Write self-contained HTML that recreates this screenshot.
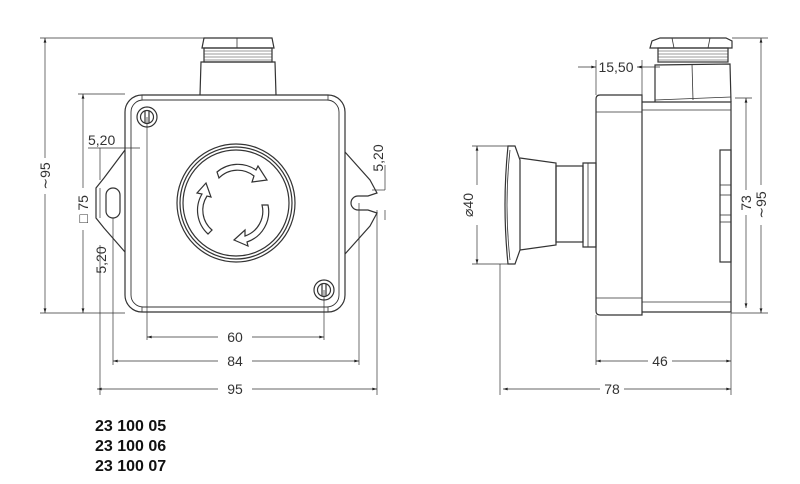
<!DOCTYPE html>
<html><head><meta charset="utf-8"><style>
html,body{margin:0;padding:0;background:#fff;}
svg{display:block}
text{font-family:"Liberation Sans","DejaVu Sans",sans-serif;fill:#333;font-size:14px}
.b{font-weight:bold;font-size:16px;fill:#111;font-family:"Liberation Sans",sans-serif}
</style></head><body>
<svg width="800" height="484" viewBox="0 0 800 484" xmlns="http://www.w3.org/2000/svg">
<defs>
<marker id="a" viewBox="0 0 10 6" refX="10" refY="3" markerWidth="8" markerHeight="4" orient="auto-start-reverse"><path d="M0,0L10,3L0,6z" fill="#222"/></marker>
</defs>
<g fill="none" stroke="#333" stroke-width="1.2">
<path d="M202,48 L204,38 L272,38 L274,48 Z"/>
<line x1="237" y1="38" x2="237" y2="48" stroke-width="0.8"/>
<rect x="204" y="48" width="68" height="14"/>
<g stroke-width="0.6"><line x1="204" y1="51" x2="272" y2="51"/><line x1="204" y1="54" x2="272" y2="54"/><line x1="204" y1="57" x2="272" y2="57"/><line x1="204" y1="60" x2="272" y2="60"/></g>
<path d="M200,95 L201,62 L275,62 L276,95"/>
<path d="M125,150 L104,178 L96,188 L96,218 L104,228 L125,252"/>
<rect x="106" y="188" width="14" height="30" rx="7"/>
<path d="M345,152 L370,180 L377,193 L368,196 L358,196 A7,7 0 0 0 358,210 L368,210 L377,213 L370,226 L345,254"/>
<rect x="125" y="95" width="220" height="217" rx="17"/>
<rect x="131" y="100" width="208" height="207" rx="12" stroke-width="0.9"/>
<line x1="142" y1="95" x2="142" y2="100" stroke-width="0.8"/><line x1="328" y1="95" x2="328" y2="100" stroke-width="0.8"/>
<line x1="142" y1="307" x2="142" y2="312" stroke-width="0.8"/><line x1="328" y1="307" x2="328" y2="312" stroke-width="0.8"/>
<circle cx="147" cy="117" r="10"/><circle cx="147" cy="117" r="6.5"/>
<line x1="145" y1="111" x2="145" y2="123"/><line x1="149" y1="111" x2="149" y2="123"/>
<circle cx="324" cy="290" r="10"/><circle cx="324" cy="290" r="6.5"/>
<line x1="322" y1="284" x2="322" y2="296"/><line x1="326" y1="284" x2="326" y2="296"/>
<circle cx="236" cy="203" r="59"/><circle cx="236" cy="203" r="56"/><circle cx="236" cy="203" r="53"/>
<path d="M217,172 A32,32 0 0 1 256,170 L258,166 L267,180 L252,182 L254,176 A26,26 0 0 0 219,178 Z"/>
<path d="M208,234 A32,32 0 0 1 202,194 L197,193 L206,183 L211,197 L207,196 A26,26 0 0 0 212,230 Z"/>
<path d="M268,205 A32,32 0 0 1 247,242 L248,246 L234,240 L245,230 L245,236 A26,26 0 0 0 262,205 Z"/>
<path d="M650,48 L652,41 L660,38 L726,38 L732,41 L732,48 Z"/>
<line x1="672" y1="38" x2="674" y2="48" stroke-width="0.8"/><line x1="710" y1="38" x2="708" y2="48" stroke-width="0.8"/>
<rect x="658" y="48" width="70" height="14"/>
<g stroke-width="0.6"><line x1="658" y1="51" x2="728" y2="51"/><line x1="658" y1="54" x2="728" y2="54"/><line x1="658" y1="57" x2="728" y2="57"/><line x1="658" y1="60" x2="728" y2="60"/></g>
<path d="M655,102 L655,65 L730,64 L731,102"/>
<line x1="692" y1="64" x2="693" y2="100" stroke-width="0.8"/>
<path d="M655,100 L731,97" stroke-width="0.8"/>
<path d="M600,95 L642,95 L642,315 L600,315 Q596,315 596,311 L596,99 Q596,95 600,95 Z"/>
<line x1="596" y1="112" x2="642" y2="112" stroke-width="0.8"/>
<line x1="596" y1="298" x2="642" y2="298" stroke-width="0.8"/>
<path d="M642,102 L731,102 L731,312 L642,312"/>
<line x1="642" y1="110" x2="731" y2="110" stroke-width="0.8"/>
<line x1="642" y1="302" x2="731" y2="302" stroke-width="0.8"/>
<rect x="720" y="150" width="11" height="112"/>
<line x1="720" y1="185" x2="731" y2="185" stroke-width="0.8"/><line x1="720" y1="195" x2="731" y2="195" stroke-width="0.8"/>
<line x1="720" y1="215" x2="731" y2="215" stroke-width="0.8"/><line x1="720" y1="222" x2="731" y2="222" stroke-width="0.8"/>
<path d="M515,146 L520,160 L520,250 L515,264 L508,264 Q502,205 508,146 Z"/>
<path d="M510,150 Q504,205 510,260" stroke-width="0.8"/>
<path d="M520,158 L556,163 L556,245 L520,250"/>
<rect x="556" y="166" width="27" height="76"/>
<path d="M583,163 L596,163 L596,247 L583,247 Z"/>
<line x1="588" y1="163" x2="588" y2="247" stroke-width="0.8"/>
</g>
<g fill="none" stroke="#333" stroke-width="0.7">
<line x1="40" y1="38" x2="205" y2="38"/><line x1="40" y1="313" x2="125" y2="313"/>
<line x1="45" y1="38" x2="45" y2="158" marker-start="url(#a)"/><line x1="45" y1="194" x2="45" y2="313" marker-end="url(#a)"/>
<line x1="78" y1="94" x2="125" y2="94"/>
<line x1="83" y1="94" x2="83" y2="188" marker-start="url(#a)"/><line x1="83" y1="230" x2="83" y2="313" marker-end="url(#a)"/>
<line x1="88" y1="148" x2="140" y2="148"/>
<line x1="100" y1="148" x2="100" y2="180"/><line x1="100" y1="188" x2="100" y2="218"/><line x1="100" y1="245" x2="100" y2="395"/>
<line x1="113" y1="218" x2="113" y2="365"/>
<line x1="147" y1="117" x2="147" y2="340"/><line x1="324" y1="290" x2="324" y2="340"/>
<line x1="359" y1="203" x2="359" y2="365"/><line x1="377" y1="210" x2="377" y2="395"/>
<line x1="372" y1="190" x2="385" y2="190"/>
<line x1="385" y1="165" x2="385" y2="190"/><line x1="385" y1="210" x2="385" y2="220"/>
<line x1="147" y1="337" x2="218" y2="337" marker-start="url(#a)"/><line x1="252" y1="337" x2="324" y2="337" marker-end="url(#a)"/>
<line x1="113" y1="361" x2="218" y2="361" marker-start="url(#a)"/><line x1="252" y1="361" x2="359" y2="361" marker-end="url(#a)"/>
<line x1="97" y1="389" x2="218" y2="389" marker-start="url(#a)"/><line x1="252" y1="389" x2="377" y2="389" marker-end="url(#a)"/>
<line x1="472" y1="146" x2="512" y2="146"/><line x1="472" y1="264" x2="512" y2="264"/>
<line x1="477" y1="146" x2="477" y2="185" marker-start="url(#a)"/><line x1="477" y1="225" x2="477" y2="264" marker-end="url(#a)"/>
<line x1="596" y1="60" x2="596" y2="95"/><line x1="642" y1="60" x2="642" y2="95"/>
<line x1="578" y1="67" x2="596" y2="67" marker-end="url(#a)"/><line x1="637" y1="67" x2="660" y2="67" marker-start="url(#a)"/>
<line x1="732" y1="38" x2="768" y2="38"/><line x1="735" y1="98" x2="752" y2="98"/><line x1="731" y1="313" x2="768" y2="313"/>
<line x1="746" y1="98" x2="746" y2="190" marker-start="url(#a)"/><line x1="746" y1="215" x2="746" y2="308" marker-end="url(#a)"/>
<line x1="761" y1="38" x2="761" y2="185" marker-start="url(#a)"/><line x1="761" y1="225" x2="761" y2="313" marker-end="url(#a)"/>
<line x1="500" y1="264" x2="500" y2="395"/><line x1="596" y1="315" x2="596" y2="365"/><line x1="731" y1="313" x2="731" y2="395"/>
<line x1="596" y1="361" x2="648" y2="361" marker-start="url(#a)"/><line x1="672" y1="361" x2="731" y2="361" marker-end="url(#a)"/>
<line x1="503" y1="389" x2="600" y2="389" marker-start="url(#a)"/><line x1="624" y1="389" x2="731" y2="389" marker-end="url(#a)"/>
</g>
<text x="50" y="176" transform="rotate(-90 50 176)" text-anchor="middle">∼95</text>
<text x="88" y="209" transform="rotate(-90 88 209)" text-anchor="middle">□ 75</text>
<text x="88" y="145">5,20</text>
<text x="106" y="260" transform="rotate(-90 106 260)" text-anchor="middle">5,20</text>
<text x="383" y="158" transform="rotate(-90 383 158)" text-anchor="middle">5,20</text>
<text x="235" y="342" text-anchor="middle">60</text>
<text x="235" y="366" text-anchor="middle">84</text>
<text x="235" y="394" text-anchor="middle">95</text>
<text x="473" y="205" transform="rotate(-90 473 205)" text-anchor="middle">⌀40</text>
<text x="616" y="72" text-anchor="middle">15,50</text>
<text x="751" y="203" transform="rotate(-90 751 203)" text-anchor="middle">73</text>
<text x="766" y="205" transform="rotate(-90 766 205)" text-anchor="middle">∼95</text>
<text x="660" y="366" text-anchor="middle">46</text>
<text x="612" y="394" text-anchor="middle">78</text>
<text class="b" x="95" y="431">23 100 05</text>
<text class="b" x="95" y="451">23 100 06</text>
<text class="b" x="95" y="471">23 100 07</text>
</svg>
</body></html>
